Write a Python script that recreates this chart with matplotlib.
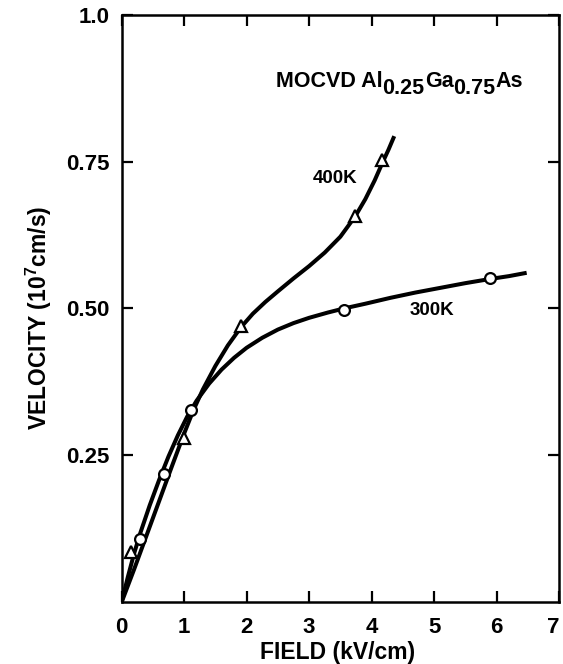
import matplotlib
matplotlib.use('Agg')
import matplotlib.pyplot as plt

plt.rcParams['font.family'] = ['Liberation Sans', 'DejaVu Sans']
plt.rcParams['mathtext.fontset'] = 'custom'
plt.rcParams['mathtext.rm'] = 'Liberation Sans'
plt.rcParams['mathtext.bf'] = 'Liberation Sans:bold'

# measured points
field_300 = [0.287, 0.686, 1.11, 3.56, 5.89]
vel_300 = [0.107, 0.218, 0.327, 0.497, 0.551]
field_400 = [0.155, 1.0, 1.91, 3.74, 4.17]
vel_400 = [0.086, 0.279, 0.47, 0.657, 0.753]

# drawn curves
curve_x_300 = [0, 0.1, 0.2, 0.3, 0.45, 0.6, 0.75, 0.9, 1.05, 1.2, 1.4, 1.6, 1.8, 2.0,
               2.25, 2.5, 2.75, 3.0, 3.3, 3.56, 3.9, 4.3, 4.7, 5.1, 5.5, 5.89, 6.2, 6.45]
curve_y_300 = [0, 0.043, 0.083, 0.118, 0.165, 0.208, 0.248, 0.284, 0.316, 0.343, 0.372,
               0.396, 0.416, 0.433, 0.450, 0.464, 0.475, 0.484, 0.493, 0.500, 0.508,
               0.518, 0.527, 0.535, 0.543, 0.550, 0.555, 0.560]
curve_x_400 = [0, 0.2, 0.4, 0.6, 0.8, 1.0, 1.15, 1.3, 1.5, 1.7, 1.91, 2.1, 2.3, 2.5,
               2.75, 3.0, 3.25, 3.5, 3.74, 3.9, 4.05, 4.17, 4.27, 4.35]
curve_y_400 = [0, 0.056, 0.114, 0.172, 0.230, 0.287, 0.327, 0.362, 0.402, 0.437, 0.468,
               0.491, 0.511, 0.529, 0.551, 0.572, 0.595, 0.622, 0.657, 0.686, 0.718,
               0.747, 0.770, 0.790]

xticks = [0, 1, 2, 3, 4, 5, 6, 7]
yticks = [0.25, 0.5, 0.75, 1.0]
ytick_labels = ['0.25', '0.50', '0.75', '1.0']

fig = plt.figure(figsize=(5.63, 6.64), dpi=100)
ax = fig.add_axes([0.216, 0.093, 0.777, 0.885])

ax.plot(curve_x_300, curve_y_300, color='black', lw=2.9, solid_joinstyle='round', zorder=2)
ax.plot(curve_x_400, curve_y_400, color='black', lw=2.9, solid_joinstyle='round', zorder=2)
ax.plot(field_300, vel_300, 'o', ms=7.8, mfc='white', mec='black', mew=1.6, zorder=3)
ax.plot(field_400, vel_400, '^', ms=8.8, mfc='white', mec='black', mew=1.6, zorder=3)

ax.set_xlim(0, 7)
ax.set_ylim(0, 1.0)
ax.set_xticks(xticks)
ax.set_xticklabels([str(t) for t in xticks], fontsize=16, fontweight='bold')
ax.get_xticklabels()[-1].set_horizontalalignment('right')
ax.set_yticks(yticks)
ax.set_yticklabels(ytick_labels, fontsize=16, fontweight='bold')
ax.tick_params(direction='in', length=8, width=1.6, top=True, right=True)
ax.tick_params(axis='x', pad=10.5)
ax.tick_params(axis='y', pad=8.5)
for s in ax.spines.values():
    s.set_linewidth(1.8)

fig.text(338 / 563, 1 - 653 / 664, 'FIELD (kV/cm)', fontsize=16.5, fontweight='bold',
         ha='center', va='center')
fig.text(39 / 563, 1 - 318 / 664, r'VELOCITY (10$^{\mathbf{7}}$cm/s)', fontsize=16.5,
         fontweight='bold', rotation=90, ha='center', va='center')

# title with lowered subscripts
parts = ['MOCVD Al', '0.25', 'Ga', '0.75', 'As']
shifts = [0, -5, 5, -5, 5]
t = ax.text(2.47, 0.868, parts[0], fontsize=15.5, fontweight='bold', ha='left', va='bottom')
for p, dy in zip(parts[1:], shifts[1:]):
    t = ax.annotate(p, xy=(1, 0), xycoords=t, xytext=(0, dy), textcoords='offset points',
                    fontsize=15.5, fontweight='bold', ha='left', va='bottom')

ax.text(3.41, 0.721, '400K', fontsize=13.5, fontweight='bold', ha='center', va='center')
ax.text(4.96, 0.496, '300K', fontsize=13.5, fontweight='bold', ha='center', va='center')

fig.savefig('out.png', dpi=100)
